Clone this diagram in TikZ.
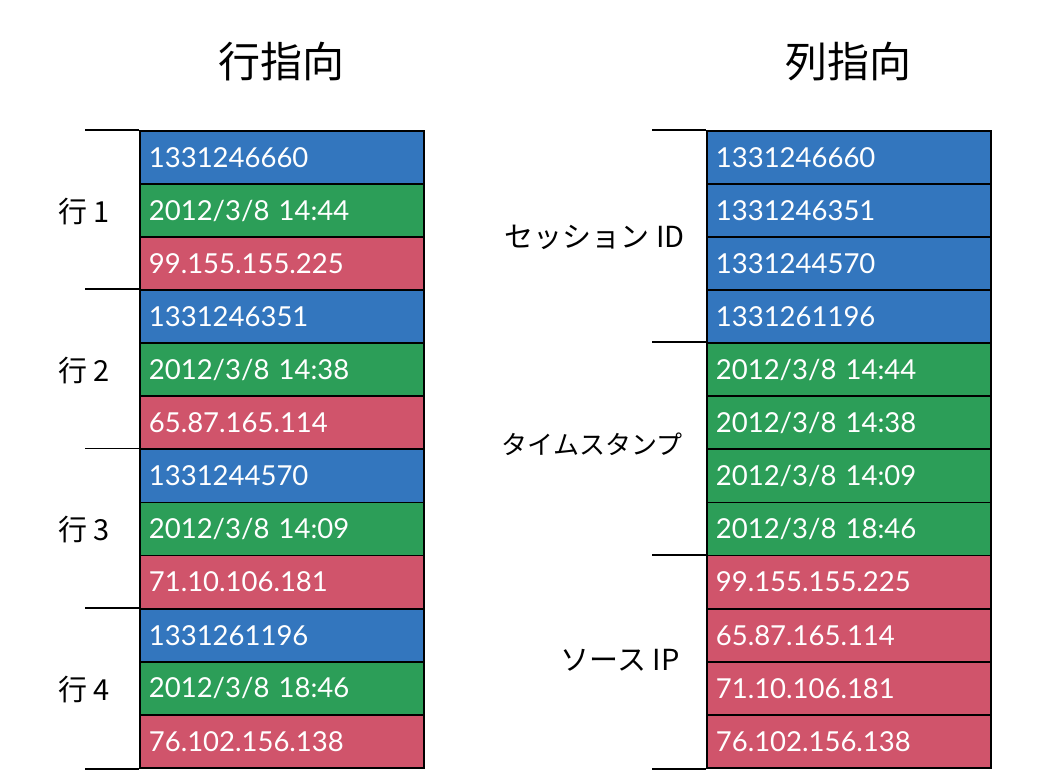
\documentclass[tikz,border=0pt]{standalone}
\usepackage{fontspec}
\setmainfont{Lato}
\newfontfamily\jp{Noto Sans CJK JP}
\definecolor{cblue}{RGB}{51,118,190}
\definecolor{cgreen}{RGB}{44,158,88}
\definecolor{cred}{RGB}{208,84,107}
\begin{document}
\begin{tikzpicture}[x=1pt,y=-1pt,
  cell/.style={draw=black, line width=1.8pt, anchor=north west, minimum height=53.08pt,
    text width=266pt, inner xsep=9pt, align=left, text=white, font=\fontsize{27.5}{27.5}\selectfont},
  bluecell/.style={cell, fill=cblue},
  greencell/.style={cell, fill=cgreen},
  redcell/.style={cell, fill=cred},
  sep/.style={line width=1.8pt},
  title/.style={font=\jp\fontsize{42}{42}\selectfont},
  lab/.style={font=\jp\fontsize{29}{29}\selectfont}]
\fill[white] (0,0) rectangle (1058,776);
\useasboundingbox (0,0) rectangle (1058,776);
% titles
\node[title] (t1) at (281,62) {行指向};
\node[title] (t2) at (848,62) {列指向};
% left column
\def\rh{53.08}
\node[bluecell]  (L1)  at (139,130+0*\rh)  {1331246660};
\node[greencell] (L2)  at (139,130+1*\rh)  {2012/3/8 14:44};
\node[redcell]   (L3)  at (139,130+2*\rh)  {99.155.155.225};
\node[bluecell]  (L4)  at (139,130+3*\rh)  {1331246351};
\node[greencell] (L5)  at (139,130+4*\rh)  {2012/3/8 14:38};
\node[redcell]   (L6)  at (139,130+5*\rh)  {65.87.165.114};
\node[bluecell]  (L7)  at (139,130+6*\rh)  {1331244570};
\node[greencell] (L8)  at (139,130+7*\rh)  {2012/3/8 14:09};
\node[redcell]   (L9)  at (139,130+8*\rh)  {71.10.106.181};
\node[bluecell]  (L10) at (139,130+9*\rh)  {1331261196};
\node[greencell] (L11) at (139,130+10*\rh) {2012/3/8 18:46};
\node[redcell]   (L12) at (139,130+11*\rh) {76.102.156.138};
\foreach \n in {L1,L4,L7,L10} \draw[sep] (\n.north west) -- ++(-54,0);
\draw[sep] (L12.south west) -- ++(-54,0);
\node[lab] (r1) at (84,212) {行 1};
\node[lab] (r2) at (84,371) {行 2};
\node[lab] (r3) at (84,530) {行 3};
\node[lab] (r4) at (84,690) {行 4};
% right column
\node[bluecell]  (R1)  at (706,130+0*\rh)  {1331246660};
\node[bluecell]  (R2)  at (706,130+1*\rh)  {1331246351};
\node[bluecell]  (R3)  at (706,130+2*\rh)  {1331244570};
\node[bluecell]  (R4)  at (706,130+3*\rh)  {1331261196};
\node[greencell] (R5)  at (706,130+4*\rh)  {2012/3/8 14:44};
\node[greencell] (R6)  at (706,130+5*\rh)  {2012/3/8 14:38};
\node[greencell] (R7)  at (706,130+6*\rh)  {2012/3/8 14:09};
\node[greencell] (R8)  at (706,130+7*\rh)  {2012/3/8 18:46};
\node[redcell]   (R9)  at (706,130+8*\rh)  {99.155.155.225};
\node[redcell]   (R10) at (706,130+9*\rh)  {65.87.165.114};
\node[redcell]   (R11) at (706,130+10*\rh) {71.10.106.181};
\node[redcell]   (R12) at (706,130+11*\rh) {76.102.156.138};
\foreach \n in {R1,R5,R9} \draw[sep] (\n.north west) -- ++(-54,0);
\draw[sep] (R12.south west) -- ++(-54,0);
\node[lab, anchor=east] (c1) at (688,237) {セッション ID};
\node[lab, anchor=east, font=\jp\fontsize{26}{26}\selectfont] (c2) at (686,444) {タイムスタンプ};
\node[lab, anchor=east] (c3) at (683,660) {ソース IP};
\end{tikzpicture}
\end{document}
